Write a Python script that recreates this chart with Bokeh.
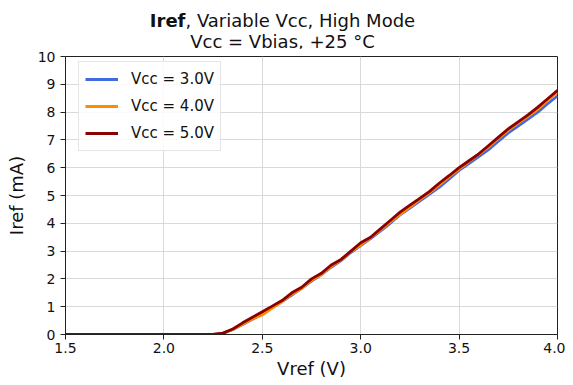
from bokeh.plotting import figure
from bokeh.models import Range1d, FixedTicker, Legend, LegendItem, CustomJSTickFormatter, Div
from bokeh.layouts import column
from bokeh.embed import file_html
from bokeh.resources import INLINE

vref = [1.5, 1.6, 1.7, 1.8, 1.9, 2.0, 2.1, 2.2, 2.25, 2.3, 2.35, 2.4, 2.45, 2.5, 2.55, 2.6, 2.65, 2.7,
        2.75, 2.8, 2.85, 2.9, 2.95, 3.0, 3.05, 3.1, 3.15, 3.2, 3.25, 3.3, 3.35, 3.4, 3.45,
        3.5, 3.55, 3.6, 3.65, 3.7, 3.75, 3.8, 3.85, 3.9, 3.95, 4.0]
iref_3v = [0, 0, 0, 0, 0, 0, 0, 0, 0, 0.04, 0.18, 0.36, 0.55, 0.74, 0.96, 1.18, 1.42, 1.66,
           1.92, 2.15, 2.42, 2.66, 2.95, 3.2, 3.45, 3.72, 4.0, 4.3, 4.55, 4.8, 5.05, 5.3, 5.6,
           5.9, 6.15, 6.4, 6.65, 6.95, 7.25, 7.5, 7.75, 8.0, 8.3, 8.58]
iref_4v = [0, 0, 0, 0, 0, 0, 0, 0, 0, 0.04, 0.18, 0.38, 0.56, 0.7, 0.95, 1.18, 1.45, 1.65,
           1.95, 2.15, 2.45, 2.68, 2.98, 3.22, 3.48, 3.75, 4.05, 4.32, 4.58, 4.85, 5.1, 5.38, 5.68,
           5.95, 6.22, 6.48, 6.75, 7.05, 7.35, 7.6, 7.85, 8.1, 8.42, 8.72]
iref_5v = [0, 0, 0, 0, 0, 0, 0, 0, 0, 0.05, 0.2, 0.42, 0.62, 0.82, 1.02, 1.22, 1.5, 1.7,
           2.0, 2.2, 2.5, 2.7, 3.0, 3.3, 3.5, 3.8, 4.1, 4.4, 4.65, 4.9, 5.15, 5.45, 5.72,
           6.0, 6.25, 6.5, 6.8, 7.1, 7.4, 7.65, 7.9, 8.18, 8.48, 8.78]

labels = ["Vcc = 3.0V", "Vcc = 4.0V", "Vcc = 5.0V"]
colors = ["#4169E1", "#FF8C00", "#8B0000"]
series = [iref_3v, iref_4v, iref_5v]
x_ticks = [1.5, 2.0, 2.5, 3.0, 3.5, 4.0]
y_ticks = list(range(0, 11))
title_bold = "Iref"
title_rest = ", Variable Vcc, High Mode"
title_line2 = "Vcc = Vbias, +25 °C"

FONT = "DejaVu Sans"

title = Div(
    text=f"<b>{title_bold}</b>{title_rest}<br>{title_line2}",
    width=565, height=48, margin=(0, 0, 0, 0),
    styles={"font-family": FONT, "font-size": "18px", "line-height": "21px",
            "text-align": "center", "color": "#111111", "padding-top": "10px",
            "box-sizing": "border-box", "width": "565px"},
)

p = figure(width=565, height=333, output_backend="svg", toolbar_location=None,
           x_range=Range1d(1.5, 4.0), y_range=Range1d(0, 10),
           min_border_left=65, min_border_right=8, min_border_top=8, min_border_bottom=40,
           margin=(0, 0, 0, 0))

items = []
for lab, col, ys in zip(labels, colors, series):
    r = p.line(vref, ys, line_color=col, line_width=2.8)
    items.append(LegendItem(label=lab, renderers=[r]))

legend = Legend(items=items, location=(13, 183), label_text_font=FONT, label_text_font_size="15px",
                label_text_color="#111111", glyph_width=33, glyph_height=22, label_standoff=13,
                spacing=5, padding=6, margin=0,
                border_line_color="#cccccc", border_line_width=1, background_fill_alpha=0.85)
p.add_layout(legend)

p.xaxis.ticker = FixedTicker(ticks=x_ticks)
p.yaxis.ticker = FixedTicker(ticks=y_ticks)
p.xaxis.formatter = CustomJSTickFormatter(code="return tick.toFixed(1);")
for ax in (p.xaxis, p.yaxis):
    ax.major_label_text_font = FONT
    ax.major_label_text_font_size = "14px"
    ax.major_label_text_color = "#111111"
    ax.axis_label_text_font = FONT
    ax.axis_label_text_font_size = "18px"
    ax.axis_label_text_font_style = "normal"
    ax.axis_label_text_color = "#111111"
    ax.minor_tick_line_color = None
    ax.major_tick_out = 5
    ax.major_tick_in = 0
    ax.axis_line_color = "#222222"
    ax.major_tick_line_color = "#222222"
p.xaxis.axis_label = "Vref (V)"
p.yaxis.axis_label = "Iref (mA)"
p.xaxis.major_label_standoff = 3
p.xaxis.axis_label_standoff = 2
p.yaxis.axis_label_standoff = 8

p.grid.grid_line_color = "#d9d9d9"
p.grid.grid_line_width = 1
p.outline_line_color = "#222222"
p.outline_line_width = 1

layout = column(title, p, spacing=0, margin=(0, 0, 0, 0))

open("out.html", "w").write(file_html(layout, INLINE))
